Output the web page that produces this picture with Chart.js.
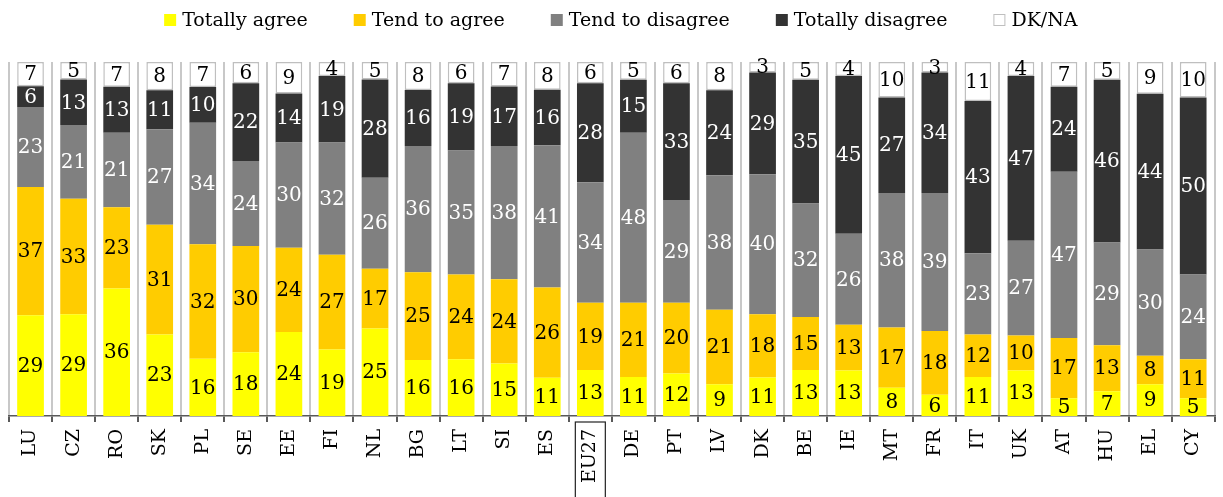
<!DOCTYPE html>
<html>
<head>
<meta charset="utf-8">
<script src="https://cdn.jsdelivr.net/npm/chart.js@4/dist/chart.umd.min.js"></script>
<style>
  html, body { margin: 0; padding: 0; background: #fff; }
  #wrap { width: 1223px; height: 497px; position: relative; }
</style>
</head>
<body>
<div id="wrap"><canvas id="chart"></canvas></div>
<script>
const countries = ["LU", "CZ", "RO", "SK", "PL", "SE", "EE", "FI", "NL", "BG", "LT", "SI", "ES", "EU27",
  "DE", "PT", "LV", "DK", "BE", "IE", "MT", "FR", "IT", "UK", "AT", "HU", "EL", "CY"];

const totallyAgree    = [29, 29, 36, 23, 16, 18, 24, 19, 25, 16, 16, 15, 11, 13, 11, 12, 9, 11, 13, 13, 8, 6, 11, 13, 5, 7, 9, 5];
const tendToAgree     = [37, 33, 23, 31, 32, 30, 24, 27, 17, 25, 24, 24, 26, 19, 21, 20, 21, 18, 15, 13, 17, 18, 12, 10, 17, 13, 8, 11];
const tendToDisagree  = [23, 21, 21, 27, 34, 24, 30, 32, 26, 36, 35, 38, 41, 34, 48, 29, 38, 40, 32, 26, 38, 39, 23, 27, 47, 29, 30, 24];
const totallyDisagree = [6, 13, 13, 11, 10, 22, 14, 19, 28, 16, 19, 17, 16, 28, 15, 33, 24, 29, 35, 45, 27, 34, 43, 47, 24, 46, 44, 50];
const dkNa            = [7, 5, 7, 8, 7, 6, 9, 4, 5, 8, 6, 7, 8, 6, 5, 6, 8, 3, 5, 4, 10, 3, 11, 4, 7, 5, 9, 10];

const FONT = "'DejaVu Serif', Georgia, serif";
const highlighted = "EU27";

const series = [
  { label: "Totally agree",    values: totallyAgree,    fill: "#FFFF00", text: "#000000", border: "#FFFF00" },
  { label: "Tend to agree",    values: tendToAgree,     fill: "#FFCC00", text: "#000000", border: "#FFCC00" },
  { label: "Tend to disagree", values: tendToDisagree,  fill: "#808080", text: "#FFFFFF", border: "#808080" },
  { label: "Totally disagree", values: totallyDisagree, fill: "#333333", text: "#FFFFFF", border: "#333333" },
  { label: "DK/NA",            values: dkNa,            fill: "#FFFFFF", text: "#000000", border: "#BFBFBF" }
];

// every column is shown as a share of its own total (100% stacked)
const totals = countries.map((_, i) => series.reduce((s, d) => s + d.values[i], 0));

const datasets = series.map(s => ({
  label: s.label,
  data: s.values.map((v, i) => v / totals[i] * 100),
  backgroundColor: s.fill,
  borderColor: s.border,
  borderWidth: s.label === "DK/NA" ? 1.5 : 0,
  borderSkipped: false,
  barPercentage: 0.62,
  categoryPercentage: 1
}));

// numbers in the middle of each segment
const segmentLabels = {
  id: "segmentLabels",
  afterDatasetsDraw(chart) {
    const ctx = chart.ctx;
    ctx.save();
    ctx.font = "20px " + FONT;
    ctx.textAlign = "center";
    ctx.textBaseline = "middle";
    chart.data.datasets.forEach((ds, di) => {
      const meta = chart.getDatasetMeta(di);
      meta.data.forEach((bar, i) => {
        ctx.fillStyle = series[di].text;
        ctx.fillText(String(series[di].values[i]), bar.x, (bar.y + bar.base) / 2 + 1);
      });
    });
    ctx.restore();
  }
};

// legend row across the top
const topLegend = {
  id: "topLegend",
  afterDraw(chart) {
    const ctx = chart.ctx;
    const box = 12, gapText = 6, gapItem = 46;
    ctx.save();
    ctx.font = "19px " + FONT;
    ctx.textBaseline = "middle";
    const widths = series.map(s => box + gapText + ctx.measureText(s.label).width);
    const total = widths.reduce((a, b) => a + b, 0) + gapItem * (series.length - 1);
    const area = chart.chartArea;
    let x = (area.left + area.right) / 2 - total / 2 + 9;
    const y = 20;
    series.forEach((s, i) => {
      ctx.fillStyle = s.fill;
      ctx.fillRect(x, y - box / 2, box, box);
      if (s.label === "DK/NA") {
        ctx.strokeStyle = "#BFBFBF";
        ctx.lineWidth = 1;
        ctx.strokeRect(x + 0.5, y - box / 2 + 0.5, box - 1, box - 1);
      }
      ctx.fillStyle = "#000";
      ctx.fillText(s.label, x + box + gapText, y + 1);
      x += widths[i] + gapItem;
    });
    ctx.restore();
  }
};

// frame round the EU27 axis label
const labelFrame = {
  id: "labelFrame",
  afterDraw(chart) {
    const xs = chart.scales.x;
    const idx = countries.indexOf(highlighted);
    const cx = xs.getPixelForValue(idx);
    const ctx = chart.ctx;
    ctx.save();
    ctx.strokeStyle = "#222";
    ctx.lineWidth = 1.2;
    ctx.strokeRect(cx - 15, 422, 30, 90);
    ctx.restore();
  }
};

new Chart(document.getElementById("chart"), {
  type: "bar",
  data: { labels: countries, datasets },
  plugins: [segmentLabels, topLegend, labelFrame],
  options: {
    responsive: true,
    maintainAspectRatio: false,
    animation: false,
    layout: { padding: { top: 62, left: 9, right: 1, bottom: 0 } },
    plugins: {
      legend: { display: false },
      tooltip: { enabled: false }
    },
    scales: {
      x: {
        stacked: true,
        afterFit(scale) { scale.height = 81; },
        grid: {
          offset: true,
          color: "#C8C8C8",
          lineWidth: 2,
          tickColor: "#595959",
          tickLength: 6
        },
        border: { color: "#595959", width: 1.5 },
        ticks: {
          autoSkip: false,
          minRotation: 90,
          maxRotation: 90,
          padding: 7,
          color: "#000",
          font: { family: FONT, size: 19 }
        }
      },
      y: {
        stacked: true,
        display: false,
        min: 0,
        max: 100
      }
    }
  }
});
</script>
</body>
</html>
